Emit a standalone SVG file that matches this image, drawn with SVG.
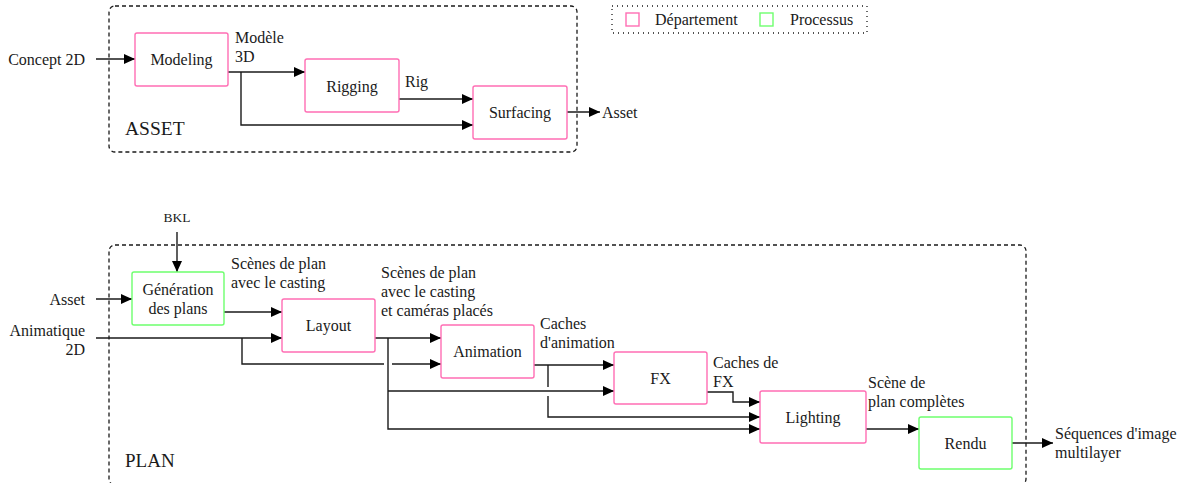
<svg xmlns="http://www.w3.org/2000/svg" width="1183" height="483" viewBox="0 0 1183 483">
<style>
text{font-family:"Liberation Serif","Times New Roman",serif;font-size:16px;fill:#1a1a1a}
.mid{text-anchor:middle}
.end{text-anchor:end}
.dept{fill:#fff;stroke:#ff6eb4;stroke-width:1.4}
.proc{fill:#fff;stroke:#6eff6e;stroke-width:1.4}
.cont{fill:none;stroke:#1a1a1a;stroke-width:1.3;stroke-dasharray:4 3}
.wire{fill:none;stroke:#1a1a1a;stroke-width:1.4}
.arr{marker-end:url(#ah)}
</style>
<defs>
<marker id="ah" markerUnits="userSpaceOnUse" markerWidth="12" markerHeight="11" refX="11" refY="5" orient="auto">
<path d="M0,0 L11,5 L0,10 Z" fill="#000"/>
</marker>
</defs>
<rect width="1183" height="483" fill="#fff"/>

<g id="asset-container">
<rect class="cont" x="109" y="6" width="468" height="146" rx="6"/>
<text x="125" y="135" style="font-size:19.5px">ASSET</text>
</g>
<g id="plan-container">
<rect class="cont" x="109" y="245" width="917" height="240" rx="6"/>
<text x="125" y="467" style="font-size:19px">PLAN</text>
</g>

<g id="legend">
<rect x="612" y="6" width="255" height="27" fill="none" stroke="#1a1a1a" stroke-width="1.3" stroke-dasharray="1 4"/>
<rect class="dept" x="626" y="13" width="13" height="13"/>
<text x="655" y="25">Département</text>
<rect class="proc" x="760" y="13" width="13" height="13"/>
<text x="790" y="25">Processus</text>
</g>

<g id="connectors">
<path class="wire arr" d="M96,59 H135"/>
<path class="wire arr" d="M228,72 H305"/>
<path class="wire arr" d="M241,72 V125 H473"/>
<path class="wire arr" d="M399,99 H473"/>
<path class="wire arr" d="M567,112 H600"/>
<path class="wire arr" d="M177,232 V272"/>
<path class="wire arr" d="M96,299 H132"/>
<path class="wire arr" d="M224,312 H282"/>
<path class="wire arr" d="M96,338 H282"/>
<path class="wire" d="M242,338 V364 H384"/>
<path class="wire arr" d="M392,364 H441"/>
<path class="wire arr" d="M375,338 H441"/>
<path class="wire arr" d="M388,338 V429 H760"/>
<path class="wire arr" d="M388,391 H614"/>
<path class="wire arr" d="M534,365 H614"/>
<path class="wire" d="M548,365 V387"/>
<path class="wire arr" d="M548,396 V417 H760"/>
<path class="wire arr" d="M707,392 H733 V402 H760"/>
<path class="wire arr" d="M866,429 H919"/>
<path class="wire arr" d="M1012,443 H1053"/>
</g>

<g id="edge-labels">
<text x="85" y="65" class="end">Concept 2D</text>
<text x="235" y="43">Modèle</text>
<text x="235" y="62">3D</text>
<text x="405" y="87">Rig</text>
<text x="602" y="118">Asset</text>
<text x="177" y="222" class="mid" style="font-size:13.5px">BKL</text>
<text x="85" y="305" class="end">Asset</text>
<text x="85" y="336" class="end">Animatique</text>
<text x="85" y="355" class="end">2D</text>
<text x="231" y="269">Scènes de plan</text>
<text x="231" y="288">avec le casting</text>
<text x="381" y="278">Scènes de plan</text>
<text x="381" y="297">avec le casting</text>
<text x="381" y="316">et caméras placés</text>
<text x="540" y="329">Caches</text>
<text x="540" y="348">d'animation</text>
<text x="713" y="368">Caches de</text>
<text x="713" y="387">FX</text>
<text x="868" y="388">Scène de</text>
<text x="868" y="407">plan complètes</text>
<text x="1055" y="439">Séquences d'image</text>
<text x="1055" y="458">multilayer</text>
</g>

<g id="modeling">
<rect class="dept" x="135" y="33" width="93" height="53" rx="2"/>
<text x="181.5" y="65" class="mid">Modeling</text>
</g>
<g id="rigging">
<rect class="dept" x="305" y="59" width="94" height="53" rx="2"/>
<text x="352" y="92" class="mid">Rigging</text>
</g>
<g id="surfacing">
<rect class="dept" x="473" y="86" width="94" height="53" rx="2"/>
<text x="520" y="118" class="mid">Surfacing</text>
</g>
<g id="generation">
<rect class="proc" x="132" y="272" width="92" height="53" rx="2"/>
<text x="178" y="295" class="mid">Génération</text>
<text x="178" y="314" class="mid">des plans</text>
</g>
<g id="layout">
<rect class="dept" x="282" y="299" width="93" height="53" rx="2"/>
<text x="328.5" y="331" class="mid">Layout</text>
</g>
<g id="animation">
<rect class="dept" x="441" y="325" width="93" height="53" rx="2"/>
<text x="487.5" y="357" class="mid">Animation</text>
</g>
<g id="fx">
<rect class="dept" x="614" y="352" width="93" height="52" rx="2"/>
<text x="660.5" y="384" class="mid">FX</text>
</g>
<g id="lighting">
<rect class="dept" x="760" y="391" width="106" height="52" rx="2"/>
<text x="813" y="423" class="mid">Lighting</text>
</g>
<g id="rendu">
<rect class="proc" x="919" y="417" width="93" height="52" rx="2"/>
<text x="965.5" y="449" class="mid">Rendu</text>
</g>
</svg>
